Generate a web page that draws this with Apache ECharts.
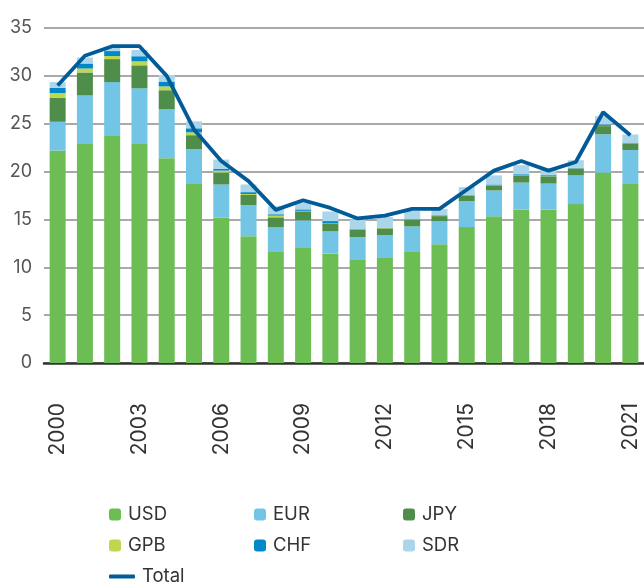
<!DOCTYPE html>
<html>
<head>
<meta charset="utf-8">
<script src="https://cdn.jsdelivr.net/npm/echarts@6/dist/echarts.min.js"></script>
<style>
  html, body { margin: 0; padding: 0; background: #fff; }
  #reserveChart { width: 644px; height: 585px; }
</style>
</head>
<body>
<div id="reserveChart"></div>
<script>
// 数据
const years = ["2000","2001","2002","2003","2004","2005","2006","2007","2008","2009","2010",
  "2011","2012","2013","2014","2015","2016","2017","2018","2019","2020","2021"];
const usd = [22.2, 22.95, 23.8, 22.95, 21.4, 18.7, 15.2, 13.25, 11.67, 12.1, 11.45, 10.85, 11.05, 11.67, 12.4, 14.2, 15.33, 16.05, 16.05, 16.6, 19.9, 18.7];
const eur = [3.0, 5.0, 5.55, 5.75, 5.1, 3.65, 3.45, 3.25, 2.5, 2.8, 2.3, 2.3, 2.3, 2.6, 2.4, 2.7, 2.7, 2.8, 2.7, 3.0, 4.0, 3.55];
const jpy = [2.5, 2.4, 2.4, 2.4, 2.0, 1.45, 1.25, 1.05, 1.05, 0.95, 0.85, 0.8, 0.72, 0.7, 0.55, 0.6, 0.5, 0.75, 0.75, 0.72, 0.85, 0.7];
const gpb = [0.5, 0.42, 0.32, 0.42, 0.4, 0.3, 0.2, 0.1, 0.18, 0.05, 0.03, 0.03, 0.05, 0.03, 0.05, 0.03, 0.02, 0.02, 0.02, 0.02, 0.03, 0.02];
const chf = [0.55, 0.52, 0.52, 0.53, 0.5, 0.42, 0.2, 0.2, 0.14, 0.15, 0.2, 0.05, 0.03, 0.03, 0.05, 0.05, 0.1, 0.1, 0.1, 0.05, 0.15, 0.05];
const sdr = [0.6, 0.63, 0.45, 0.65, 0.7, 0.73, 0.95, 0.8, 0.83, 0.75, 1.0, 0.95, 1.1, 0.85, 0.65, 0.8, 0.95, 0.95, 0.7, 0.8, 0.85, 0.85];
const total = [29.0, 32.1, 33.1, 33.1, 30.0, 24.4, 21.1, 19.0, 16.0, 17.0, 16.2, 15.1, 15.4, 16.1, 16.1, 18.1, 20.1, 21.1, 20.1, 21.0, 26.2, 23.8];

const font = "Inter, 'Noto Sans', sans-serif";

let myChart = echarts.init(document.getElementById("reserveChart"));

function bar(name, data, color) {
  return {
    name: name,
    type: "bar",
    stack: "all",
    barWidth: 16,
    data: data,
    itemStyle: { color: color },
  };
}

// 图例: 每个单独放
function legendAt(item, left, top, w, h) {
  return {
    data: [item],
    left: left,
    top: top,
    padding: 0,
    itemWidth: w || 12,
    itemHeight: h || 12,
    itemGap: 0,
    textStyle: { fontFamily: font, fontSize: 18.5, color: "#333", padding: [0, 0, 0, 2] },
  };
}

myChart.setOption({
  animation: false,
  grid: { left: 44, right: -1, top: 28, bottom: 222, containLabel: false },
  legend: [
    legendAt("USD", 109, 505),
    legendAt("EUR", 254, 505),
    legendAt("JPY", 403, 505),
    legendAt("GPB", 109, 536),
    legendAt("CHF", 254, 536),
    legendAt("SDR", 403, 536),
    legendAt({ name: "Total", icon: "roundRect", itemStyle: { color: "#005b98" } }, 109, 567, 26, 4),
  ],
  xAxis: [
    {
      type: "category",
      data: years,
      offset: 30,
      axisLine: { lineStyle: { color: "#aaa", width: 2 } },
      axisTick: { interval: 2, alignWithLabel: true, length: 12, lineStyle: { color: "#555", width: 1.5 } },
      axisLabel: { interval: 2, rotate: 90, fontFamily: font, fontSize: 21, color: "#333", margin: 10 },
    },
    {
      type: "category",
      data: years,
      position: "bottom",
      axisLine: { lineStyle: { color: "#333", width: 2.5 } },
      axisTick: { show: false },
      axisLabel: { show: false },
    },
  ],
  yAxis: {
    type: "value",
    min: 0,
    max: 35,
    interval: 5,
    axisLine: { show: false },
    axisTick: { show: false },
    axisLabel: { fontFamily: font, fontSize: 18, color: "#555", margin: 12 },
    splitLine: { lineStyle: { color: "#8c8c8c", width: 1.5 } },
  },
  series: [
    bar("USD", usd, "#6dbd55"),
    bar("EUR", eur, "#73c5e6"),
    bar("JPY", jpy, "#4f8e4a"),
    bar("GPB", gpb, "#bdd84f"),
    bar("CHF", chf, "#0088c9"),
    bar("SDR", sdr, "#abd5e9"),
    {
      name: "Total",
      type: "line",
      data: total,
      symbol: "none",
      z: 5,
      lineStyle: { color: "#005b98", width: 3.8 },
      itemStyle: { color: "#005b98" },
    },
  ],
});
</script>
</body>
</html>
